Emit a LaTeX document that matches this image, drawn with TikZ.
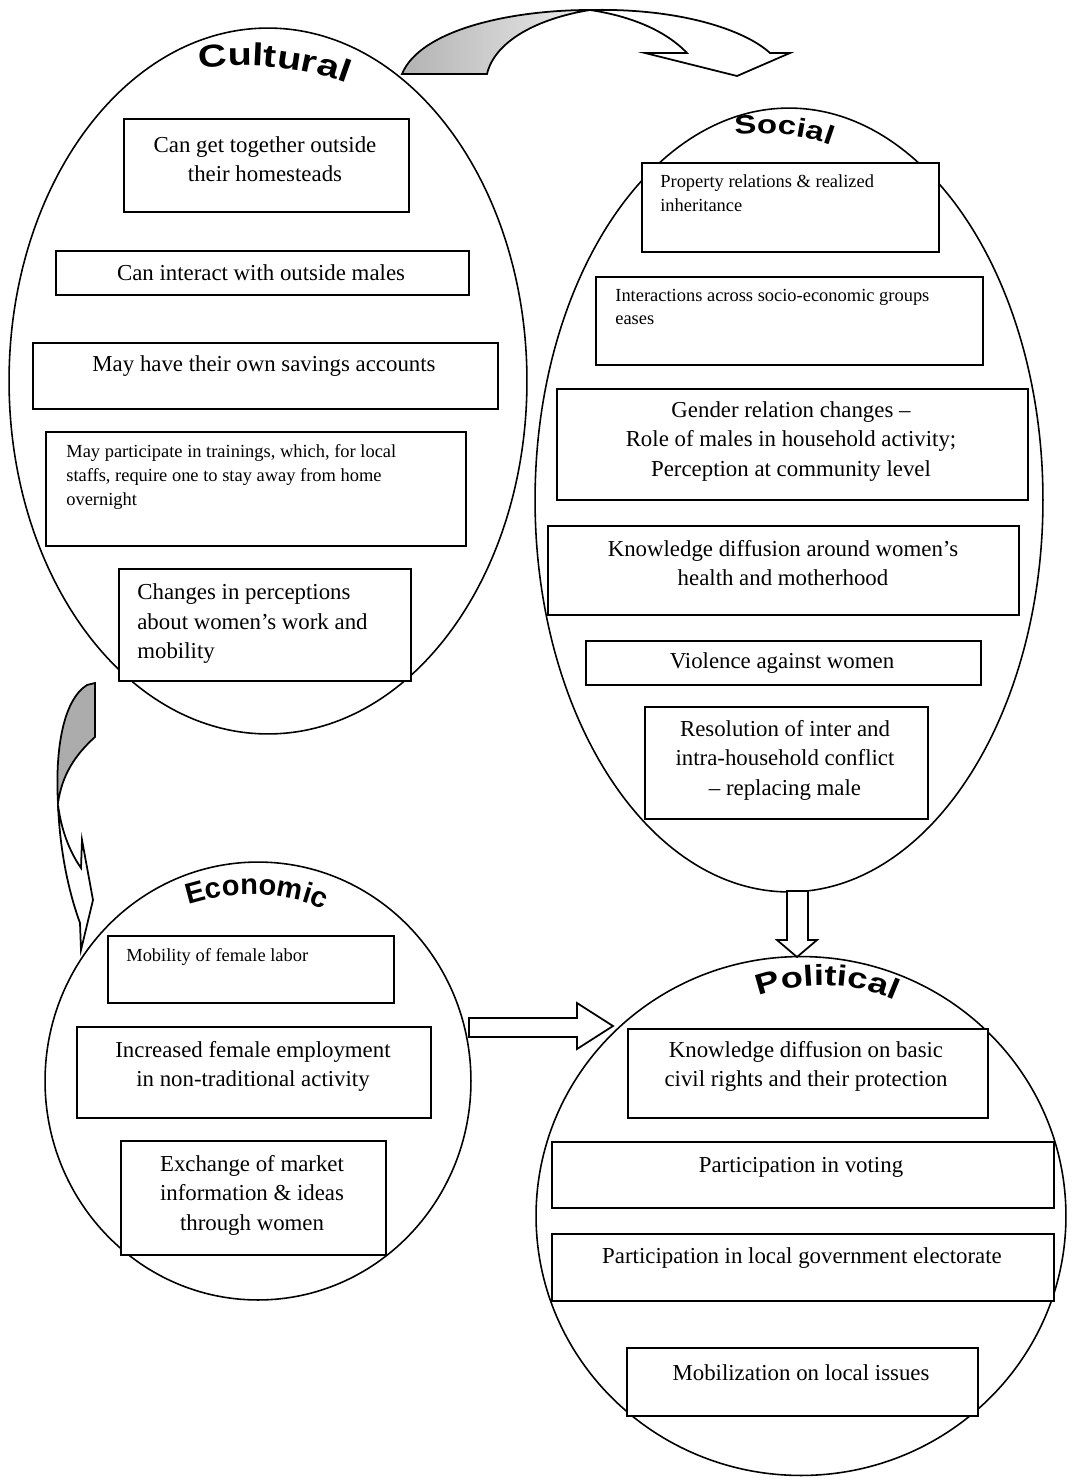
\documentclass[tikz,border=0pt]{standalone}
\usepackage{fontspec}
\setmainfont{Liberation Serif}
\newfontfamily\ttlfam{Liberation Sans}
\newfontfamily\ttlwide{Liberation Sans}[FakeStretch=1.25]
\usetikzlibrary{shapes.geometric,decorations.text,calc}
\newcommand\ttlw[1]{\ttlwide\bfseries\fontsize{#1}{#1}\selectfont}
\newcommand\ttln[1]{\ttlfam\bfseries\fontsize{#1}{#1}\selectfont}
\newcommand\bx[5]{\node[box, minimum width={(#4-#2)*0.02cm}, minimum height={(#5-#3)*0.02cm}] (#1) at (#2,#3) {};}
\begin{document}
\begin{tikzpicture}[x=0.02cm, y=-0.02cm,
  bub/.style={draw, ellipse, line width=0.9pt, inner sep=0pt},
  box/.style={draw, fill=white, line width=1.1pt, inner sep=0pt, anchor=north west},
  txt/.style={font=\fontsize{13pt}{16.8pt}\selectfont, align=center, inner sep=0pt},
  lft/.style={txt, align=left, anchor=north west},
  sml/.style={font=\fontsize{10.5pt}{13.6pt}\selectfont, align=left, anchor=north west, inner sep=0pt},
  blk/.style={draw, line width=1pt, fill=white, line join=miter},
  ttlpath/.style={decorate, decoration={text along path, text align=center, text={#1}}}]
\useasboundingbox (0,0) rectangle (1075,1481);

% bubbles
\node[bub, minimum width=10.36cm, minimum height=14.12cm] (cult) at (268,381) {};
\node[bub, minimum width=10.16cm, minimum height=15.68cm] (soc) at (789,500) {};
\node[bub, minimum width=8.52cm, minimum height=8.76cm] (eco) at (258,1081) {};
\node[bub, minimum width=10.6cm, minimum height=10.38cm] (pol) at (801,1216) {};

% titles
\path[ttlpath={|\ttlw{18pt}|Cultural}] (183,72) .. controls (235,60) and (305,64) .. (362,90);
\path[ttlpath={|\ttlw{15pt}|Social}] (725,136) .. controls (760,131) and (805,133) .. (840,149);
\path[ttlpath={|\ttln{16.5pt}|Economic}] (176,909) .. controls (220,890) and (292,888) .. (335,916);
\path[ttlpath={|\ttlw{16.5pt}|Political}] (745,1002) .. controls (790,979) and (862,979) .. (908,1007);

% Cultural boxes
\bx{c1}{123}{118}{408}{211}
\node[txt] (c1t) at (265,159) {Can get together outside\\their homesteads};
\bx{c2}{55}{250}{468}{294}
\node[txt] (c2t) at (261,273) {Can interact with outside males};
\bx{c3}{32}{342}{497}{408}
\node[txt] (c3t) at (264,366) {May have their own savings accounts};
\bx{c4}{45}{431}{465}{545}
\node[sml] (c4t) at (66,444.5) {May participate in trainings, which, for local\\staffs, require one to stay away from home\\overnight};
\bx{c5}{118}{568}{410}{680}
\node[lft] (c5t) at (137,583.6) {Changes in perceptions\\about women’s work and\\mobility};

% Social boxes
\bx{s1}{641}{162}{938}{251}
\node[sml] (s1t) at (660,174.5) {Property relations \& realized\\inheritance};
\bx{s2}{595}{276}{982}{364}
\node[sml] (s2t) at (615,288.5) {Interactions across socio-economic groups\\eases};
\bx{s3}{556}{388}{1027}{499}
\node[txt] (s3t) at (791,441.5) {Gender relation changes –\\Role of males in household activity;\\Perception at community level};
\bx{s4}{547}{525}{1018}{614}
\node[txt] (s4t) at (783,563) {Knowledge diffusion around women’s\\health and motherhood};
\bx{s5}{585}{640}{980}{684}
\node[txt] (s5t) at (782,663) {Violence against women};
\bx{s6}{644}{706}{927}{818}
\node[txt] (s6t) at (785,760) {Resolution of inter and\\intra-household conflict\\– replacing male};

% Economic boxes
\bx{e1}{107}{935}{393}{1002}
\node[sml] (e1t) at (126,948.5) {Mobility of female labor};
\bx{e2}{76}{1026}{430}{1117}
\node[txt] (e2t) at (253,1066.5) {Increased female employment\\in non-traditional activity};
\bx{e3}{120}{1140}{385}{1254}
\node[txt] (e3t) at (252,1195) {Exchange of market\\information \& ideas\\through women};

% Political boxes
\bx{p1}{627}{1028}{987}{1117}
\node[txt] (p1t) at (806,1066.5) {Knowledge diffusion on basic\\civil rights and their protection};
\bx{p2}{551}{1141}{1053}{1207}
\node[txt] (p2t) at (801,1167) {Participation in voting};
\bx{p3}{551}{1233}{1053}{1300}
\node[txt] (p3t) at (802,1258) {Participation in local government electorate};
\bx{p4}{626}{1347}{977}{1415}
\node[txt] (p4t) at (801,1373) {Mobilization on local issues};

% top curved arrow (Cultural -> Social)
\draw[line width=1pt, left color=gray!60, right color=gray!15]
  (402,74) .. controls (420,30) and (510,10) .. (590,10)
  .. controls (540,18) and (495,40) .. (487,74) -- cycle;
\draw[blk] (590,10) .. controls (680,8) and (745,30) .. (770,53) -- (790,53) -- (737,76)
  -- (645,53) -- (687,53) .. controls (665,30) and (630,16) .. (590,10) -- cycle;

% left curved arrow (Cultural -> Economic)
\draw[line width=1pt, fill=gray!65]
  (95,683) -- (95,737) .. controls (75,755) and (62,775) .. (58,803)
  .. controls (55,750) and (63,700) .. (87,685) -- cycle;
\draw[blk] (58,805) .. controls (60,850) and (68,890) .. (80,923) -- (81,950) -- (93,900)
  -- (82,840) -- (81,868) .. controls (72,855) and (62,835) .. (58,805) -- cycle;

% Economic -> Political
\draw[blk] (469,1018) -- (577,1018) -- (577,1003) -- (613,1026) -- (577,1049)
  -- (577,1037) -- (469,1037) -- cycle;

% Social -> Political
\draw[blk] (787,891) -- (808,891) -- (808,940) -- (817,940) -- (797,957)
  -- (777,940) -- (787,940) -- cycle;
\end{tikzpicture}
\end{document}
